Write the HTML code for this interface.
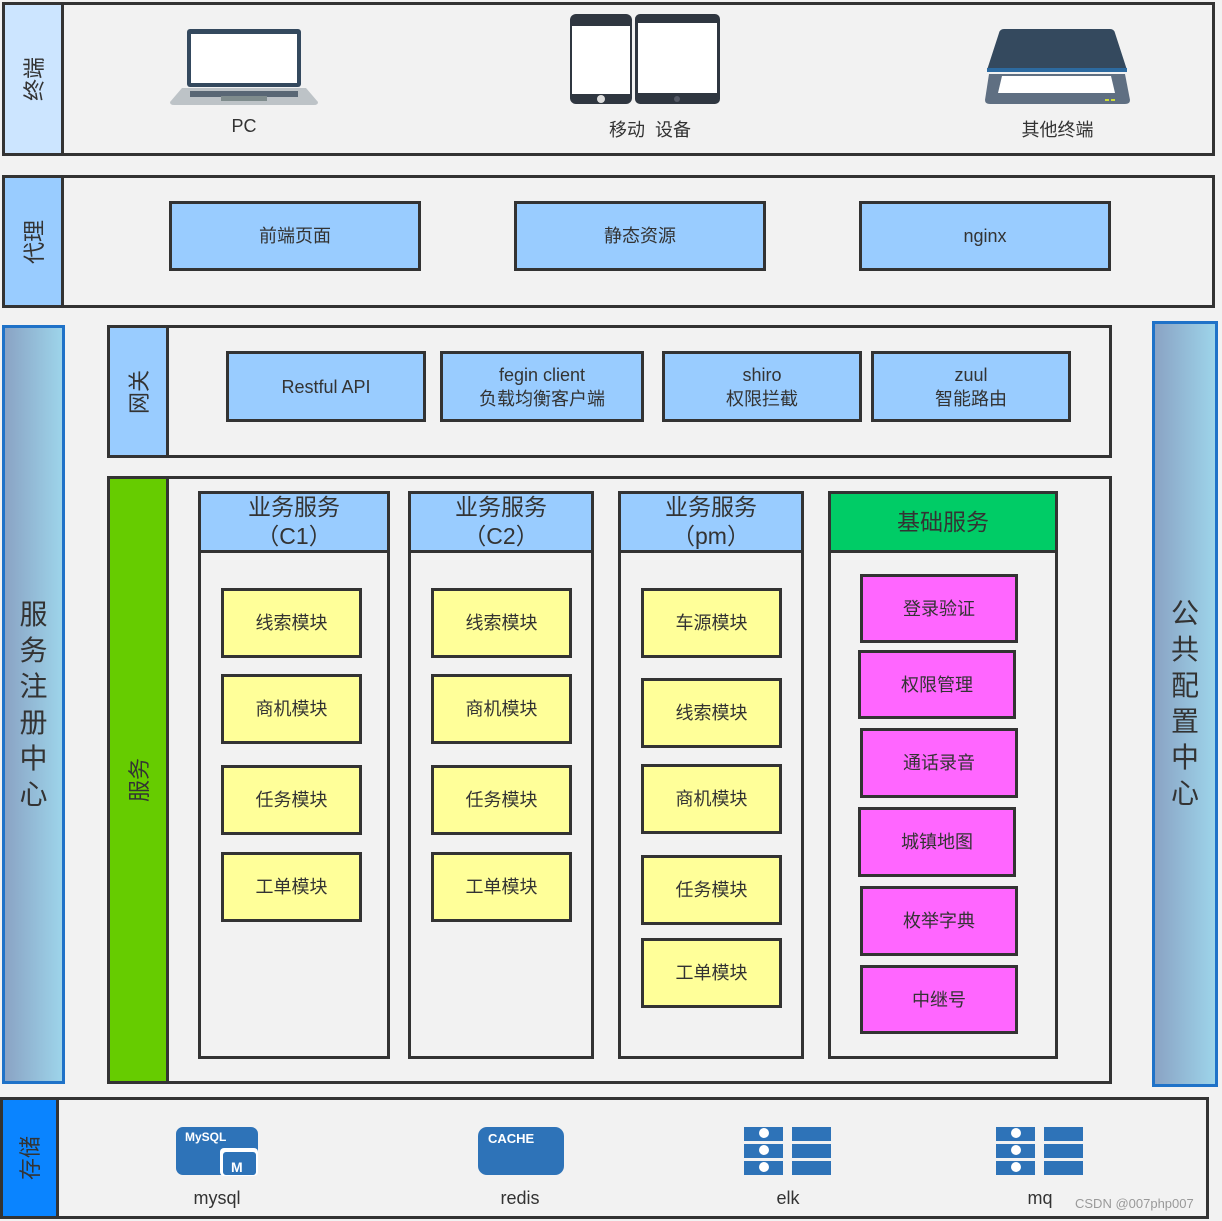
<!DOCTYPE html>
<html><head><meta charset="utf-8"><style>
body{margin:0;width:1222px;height:1221px;background:#f2f2f2;position:relative;overflow:hidden;font-family:"Liberation Sans","Noto Sans CJK SC",sans-serif;color:#333}
.b{position:absolute;box-sizing:border-box;border:3px solid #333;display:flex;align-items:center;justify-content:center;text-align:center;font-size:18px;line-height:24px;background:#f2f2f2}
.bl{background:#99ccff}.y{background:#ffff99}.p{background:#ff66ff}
.rot{position:absolute;display:flex;align-items:center;justify-content:center}
.rot span{transform:rotate(-90deg);white-space:nowrap;font-size:22px}
.t{position:absolute;font-size:18px;text-align:center}
.side{position:absolute;box-sizing:border-box;border:3px solid #1f72c8;background:linear-gradient(to right,#8aa3c4,#9dd4ea);display:flex;align-items:center;justify-content:center;font-size:28px;line-height:36px;text-align:center;width:1em}
</style></head><body>
<!-- terminal -->
<div class="b" style="left:2px;top:2px;width:1213px;height:154px"></div>
<div class="b" style="left:2px;top:2px;width:62px;height:154px;background:#cce5ff"></div>
<div class="rot" style="left:2px;top:2px;width:62px;height:154px"><span>终端</span></div>
<svg style="position:absolute;left:168px;top:28px" width="152" height="78"><rect x="19" y="1" width="114" height="58" rx="3" fill="#34495e"/><rect x="23" y="6" width="106" height="49" fill="#fff"/><path d="M14 60 H138 L150 74 Q150 77 146 77 H6 Q2 77 2 74Z" fill="#bdc3c7"/><rect x="22" y="63" width="108" height="6" fill="#596775"/><rect x="53" y="68" width="46" height="5" fill="#7f8c8d"/></svg>
<div class="t" style="left:194px;top:116px;width:100px">PC</div>
<svg style="position:absolute;left:569px;top:13px" width="152" height="92"><rect x="1" y="1" width="62" height="90" rx="6" fill="#2f3640"/><rect x="3" y="13" width="58" height="68" fill="#fff"/><circle cx="32" cy="86" r="4" fill="#ddd"/><rect x="66" y="1" width="85" height="90" rx="5" fill="#2f3640"/><rect x="69" y="10" width="79" height="70" fill="#fff"/><circle cx="108" cy="86" r="3" fill="#555a66"/></svg>
<div class="t" style="left:580px;top:116px;width:140px">移动&nbsp;&nbsp;设备</div>
<svg style="position:absolute;left:984px;top:28px" width="146" height="78"><path d="M20 1 H126 Q130 1 131 5 L143 42 H3 L15 5 Q16 1 20 1Z" fill="#34495e"/><rect x="3" y="40" width="140" height="4" fill="#2c6aa0"/><path d="M5 46 H141 L146 72 Q146 76 141 76 H6 Q1 76 1 72Z" fill="#5f6f82"/><path d="M18 48 H127 L131 65 H14Z" fill="#fff"/><rect x="121" y="71" width="4" height="2" fill="#cddc39"/><rect x="127" y="71" width="4" height="2" fill="#cddc39"/></svg>
<div class="t" style="left:1000px;top:116px;width:115px">其他终端</div>
<!-- proxy -->
<div class="b" style="left:2px;top:175px;width:1213px;height:133px"></div>
<div class="b bl" style="left:2px;top:175px;width:62px;height:133px"></div>
<div class="rot" style="left:2px;top:175px;width:62px;height:133px"><span>代理</span></div>
<div class="b bl" style="left:169px;top:201px;width:252px;height:70px">前端页面</div>
<div class="b bl" style="left:514px;top:201px;width:252px;height:70px">静态资源</div>
<div class="b bl" style="left:859px;top:201px;width:252px;height:70px">nginx</div>
<!-- sidebars -->
<div class="side" style="left:2px;top:325px;width:63px;height:759px">服<br>务<br>注<br>册<br>中<br>心</div>
<div class="side" style="left:1152px;top:321px;width:66px;height:766px">公<br>共<br>配<br>置<br>中<br>心</div>
<!-- gateway -->
<div class="b" style="left:107px;top:325px;width:1005px;height:133px"></div>
<div class="b bl" style="left:107px;top:325px;width:62px;height:133px"></div>
<div class="rot" style="left:107px;top:325px;width:62px;height:133px"><span>网关</span></div>
<div class="b bl" style="left:226px;top:351px;width:200px;height:71px">Restful API</div>
<div class="b bl" style="left:440px;top:351px;width:204px;height:71px">fegin client<br>负载均衡客户端</div>
<div class="b bl" style="left:662px;top:351px;width:200px;height:71px">shiro<br>权限拦截</div>
<div class="b bl" style="left:871px;top:351px;width:200px;height:71px">zuul<br>智能路由</div>
<!-- service -->
<div class="b" style="left:107px;top:476px;width:1005px;height:608px"></div>
<div class="b" style="left:107px;top:476px;width:62px;height:608px;background:#66cc00"></div>
<div class="rot" style="left:107px;top:476px;width:62px;height:608px"><span>服务</span></div>

<div class="b" style="left:198px;top:491px;width:192px;height:568px"></div>
<div class="b bl" style="left:198px;top:491px;width:192px;height:62px;font-size:23px;line-height:29px">业务服务<br>（C1）</div>
<div class="b" style="left:408px;top:491px;width:186px;height:568px"></div>
<div class="b bl" style="left:408px;top:491px;width:186px;height:62px;font-size:23px;line-height:29px">业务服务<br>（C2）</div>
<div class="b" style="left:618px;top:491px;width:186px;height:568px"></div>
<div class="b bl" style="left:618px;top:491px;width:186px;height:62px;font-size:23px;line-height:29px">业务服务<br>（pm）</div>
<div class="b" style="left:828px;top:491px;width:230px;height:568px"></div>
<div class="b" style="left:828px;top:491px;width:230px;height:62px;background:#00cc66;font-size:23px">基础服务</div>

<div class="b y" style="left:221px;top:588px;width:141px;height:70px">线索模块</div>
<div class="b y" style="left:221px;top:674px;width:141px;height:70px">商机模块</div>
<div class="b y" style="left:221px;top:765px;width:141px;height:70px">任务模块</div>
<div class="b y" style="left:221px;top:852px;width:141px;height:70px">工单模块</div>
<div class="b y" style="left:431px;top:588px;width:141px;height:70px">线索模块</div>
<div class="b y" style="left:431px;top:674px;width:141px;height:70px">商机模块</div>
<div class="b y" style="left:431px;top:765px;width:141px;height:70px">任务模块</div>
<div class="b y" style="left:431px;top:852px;width:141px;height:70px">工单模块</div>
<div class="b y" style="left:641px;top:588px;width:141px;height:70px">车源模块</div>
<div class="b y" style="left:641px;top:678px;width:141px;height:70px">线索模块</div>
<div class="b y" style="left:641px;top:764px;width:141px;height:70px">商机模块</div>
<div class="b y" style="left:641px;top:855px;width:141px;height:70px">任务模块</div>
<div class="b y" style="left:641px;top:938px;width:141px;height:70px">工单模块</div>

<div class="b p" style="left:860px;top:574px;width:158px;height:69px">登录验证</div>
<div class="b p" style="left:858px;top:650px;width:158px;height:69px">权限管理</div>
<div class="b p" style="left:860px;top:728px;width:158px;height:70px">通话录音</div>
<div class="b p" style="left:858px;top:807px;width:158px;height:70px">城镇地图</div>
<div class="b p" style="left:860px;top:886px;width:158px;height:70px">枚举字典</div>
<div class="b p" style="left:860px;top:965px;width:158px;height:69px">中继号</div>
<!-- storage -->
<div class="b" style="left:0px;top:1097px;width:1209px;height:122px"></div>
<div class="b" style="left:0px;top:1097px;width:59px;height:122px;background:#0a84ff"></div>
<div class="rot" style="left:0px;top:1097px;width:59px;height:122px"><span>存储</span></div>
<svg style="position:absolute;left:175px;top:1126px" width="86" height="50"><rect x="1" y="1" width="82" height="48" rx="7" fill="#2e73b8"/><text x="10" y="15" fill="#fff" font-size="12" font-weight="bold" font-family="Liberation Sans">MySQL</text><rect x="45" y="22" width="38" height="28" rx="4" fill="#fff"/><rect x="48" y="26" width="33" height="23" rx="3" fill="#2e73b8"/><text x="56" y="46" fill="#fff" font-size="14" font-weight="bold" font-family="Liberation Sans">M</text></svg>
<div class="t" style="left:167px;top:1188px;width:100px">mysql</div>
<svg style="position:absolute;left:477px;top:1126px" width="88" height="50"><rect x="1" y="1" width="86" height="48" rx="9" fill="#2e73b8"/><text x="11" y="17" fill="#fff" font-size="13" font-weight="bold" font-family="Liberation Sans">CACHE</text></svg>
<div class="t" style="left:470px;top:1188px;width:100px">redis</div>
<svg style="position:absolute;left:743px;top:1126px" width="90" height="50"><g fill="#2e73b8"><rect x="1" y="1" width="39" height="14"/><rect x="49" y="1" width="39" height="14"/><rect x="1" y="18" width="39" height="14"/><rect x="49" y="18" width="39" height="14"/><rect x="1" y="35" width="39" height="14"/><rect x="49" y="35" width="39" height="14"/></g><g fill="#fff"><circle cx="21" cy="7" r="5"/><circle cx="21" cy="24" r="5"/><circle cx="21" cy="41" r="5"/></g></svg>
<div class="t" style="left:738px;top:1188px;width:100px">elk</div>
<svg style="position:absolute;left:995px;top:1126px" width="90" height="50"><g fill="#2e73b8"><rect x="1" y="1" width="39" height="14"/><rect x="49" y="1" width="39" height="14"/><rect x="1" y="18" width="39" height="14"/><rect x="49" y="18" width="39" height="14"/><rect x="1" y="35" width="39" height="14"/><rect x="49" y="35" width="39" height="14"/></g><g fill="#fff"><circle cx="21" cy="7" r="5"/><circle cx="21" cy="24" r="5"/><circle cx="21" cy="41" r="5"/></g></svg>
<div class="t" style="left:990px;top:1188px;width:100px">mq</div>
<div style="position:absolute;left:1075px;top:1196px;font-size:13px;color:#999">CSDN @007php007</div>
</body></html>
